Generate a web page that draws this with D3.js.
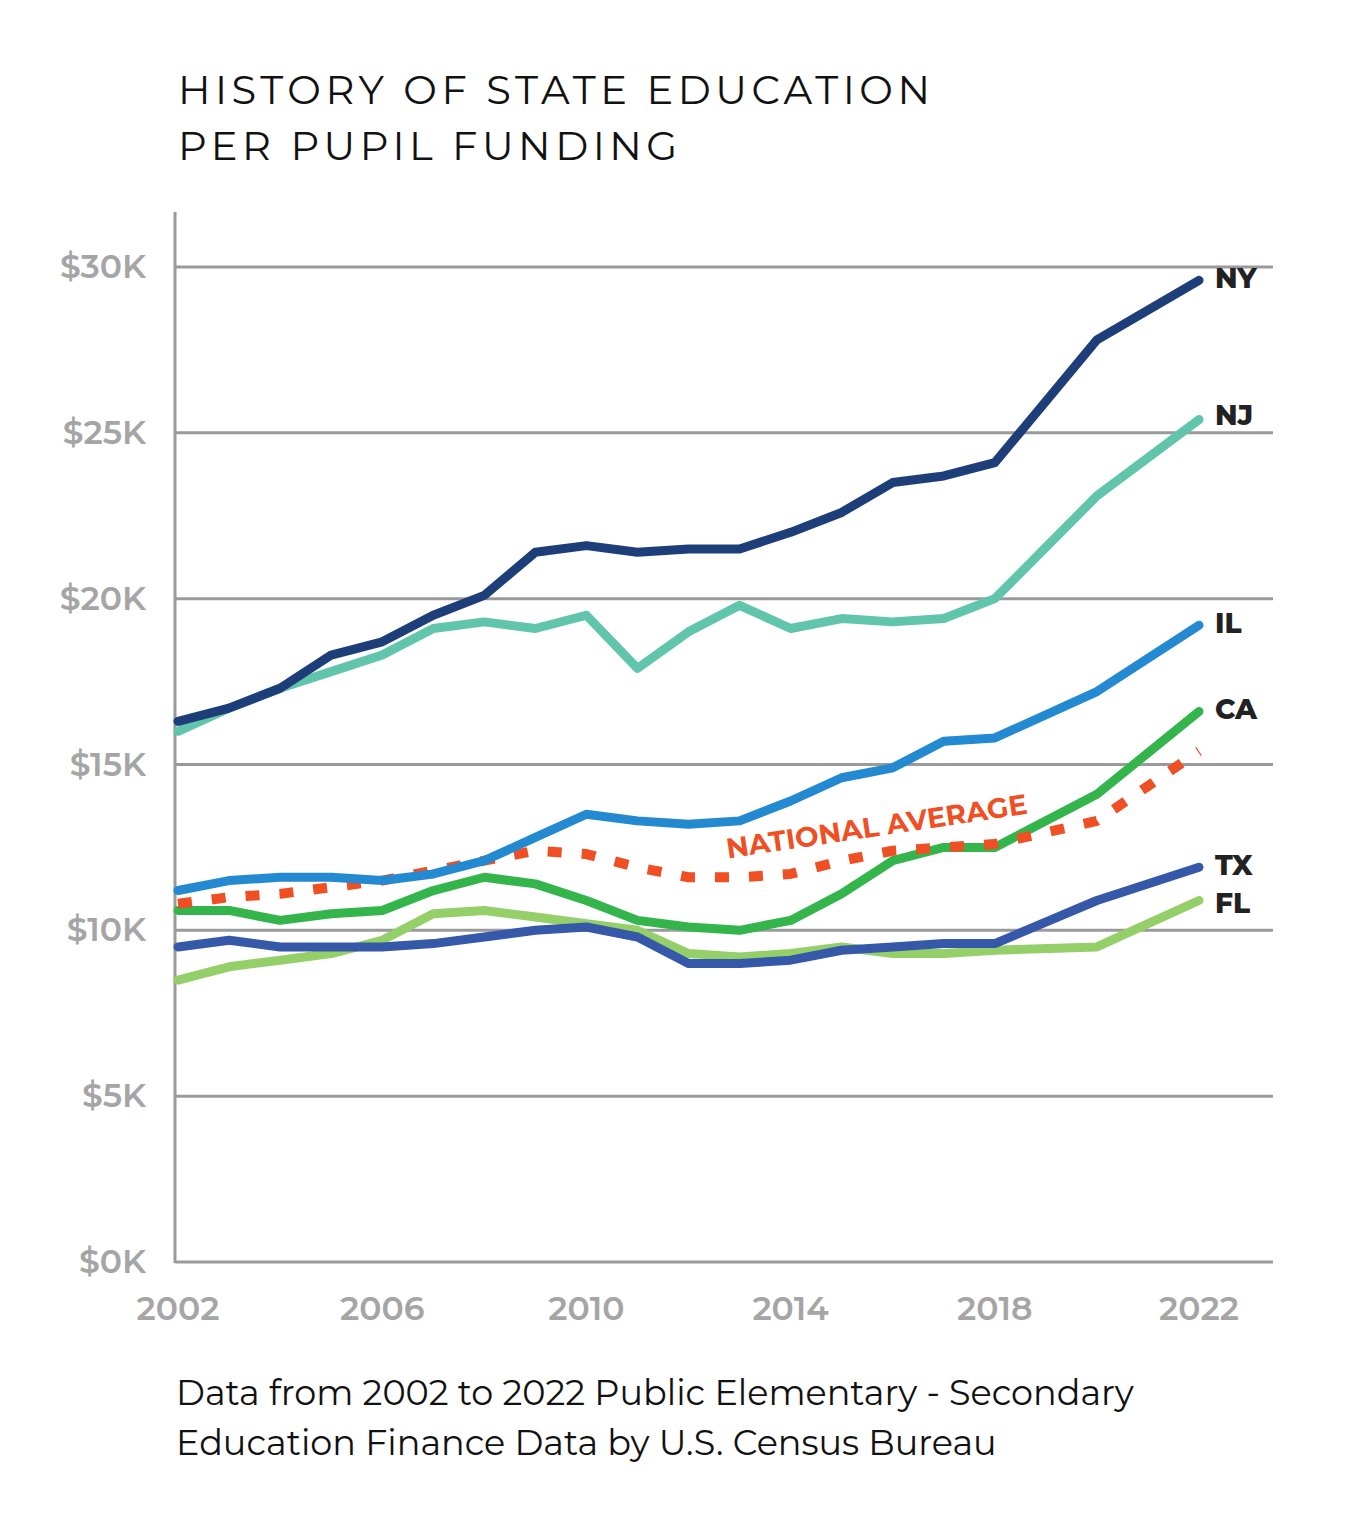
<!DOCTYPE html>
<html><head><meta charset="utf-8">
<script src="https://cdn.jsdelivr.net/npm/d3@7"></script>
<style>body{margin:0;background:#fff}</style>
</head><body><svg id="c" width="1349" height="1536"></svg>
<script>
const years=[2002,2003,2004,2005,2006,2007,2008,2009,2010,2011,2012,2013,2014,2015,2016,2017,2018,2020,2022];
const NY=[16.3,16.7,17.3,18.3,18.7,19.5,20.1,21.4,21.6,21.4,21.5,21.5,22.0,22.6,23.5,23.7,24.1,27.8,29.6];
const NJ=[16.0,16.7,17.3,17.8,18.3,19.1,19.3,19.1,19.5,17.9,19.0,19.8,19.1,19.4,19.3,19.4,20.0,23.1,25.4];
const IL=[11.2,11.5,11.6,11.6,11.5,11.7,12.1,12.8,13.5,13.3,13.2,13.3,13.9,14.6,14.9,15.7,15.8,17.2,19.2];
const CA=[10.6,10.6,10.3,10.5,10.6,11.2,11.6,11.4,10.9,10.3,10.1,10.0,10.3,11.1,12.1,12.5,12.5,14.1,16.6];
const NAT=[10.8,11.0,11.1,11.3,11.5,11.8,12.1,12.4,12.3,11.9,11.6,11.6,11.7,12.1,12.4,12.5,12.6,13.3,15.4];
const TX=[9.5,9.7,9.5,9.5,9.5,9.6,9.8,10.0,10.1,9.8,9.0,9.0,9.1,9.4,9.5,9.6,9.6,10.9,11.9];
const FL=[8.5,8.9,9.1,9.3,9.7,10.5,10.6,10.4,10.2,10.0,9.3,9.2,9.3,9.5,9.3,9.3,9.4,9.5,10.9];
const yTicks=[0,5,10,15,20,25,30];
const xTicks=[2002,2006,2010,2014,2018,2022];

const svg=d3.select("#c");
const x=d3.scaleLinear().domain([2002,2022]).range([178,1199]);
const y=d3.scaleLinear().domain([0,30]).range([1262,267]);
const F="Montserrat, Lato, 'Noto Sans', sans-serif";

svg.append("text").attr("x",178).attr("y",104).attr("font-family",F).attr("font-size",40).attr("letter-spacing",4.5).attr("fill","#111").text("HISTORY OF STATE EDUCATION");
svg.append("text").attr("x",178).attr("y",160).attr("font-family",F).attr("font-size",40).attr("letter-spacing",4.5).attr("fill","#111").text("PER PUPIL FUNDING");

svg.selectAll(".g").data(yTicks.slice(1)).join("line").attr("x1",175).attr("x2",1273).attr("y1",d=>y(d)).attr("y2",d=>y(d)).attr("stroke","#9a9a9a").attr("stroke-width",3);
svg.append("line").attr("x1",175).attr("x2",1273).attr("y1",y(0)).attr("y2",y(0)).attr("stroke","#9a9a9a").attr("stroke-width",3);
svg.append("line").attr("x1",175).attr("x2",175).attr("y1",212).attr("y2",1263).attr("stroke","#9a9a9a").attr("stroke-width",3);

svg.selectAll(".yl").data(yTicks).join("text").attr("x",146).attr("y",d=>y(d)+11).attr("text-anchor","end").attr("font-family",F).attr("font-size",33).attr("font-weight",600).attr("fill","#a5a5a5").text(d=>"$"+d+"K");
svg.selectAll(".xl").data(xTicks).join("text").attr("x",d=>x(d)).attr("y",1320).attr("text-anchor","middle").attr("font-family",F).attr("font-size",33).attr("font-weight",600).attr("fill","#a5a5a5").text(d=>d);

const line=d3.line().x((d,i)=>x(years[i])).y(d=>y(d));
const series=[
 {n:"FL",v:FL,c:"#94cf69",lx:FL[18]},
 {n:"TX",v:TX,c:"#3559a8",lx:TX[18]},
 {n:"CA",v:CA,c:"#33b54c"},
 {n:"NAT",v:NAT,c:"#f04e23",dash:true},
 {n:"IL",v:IL,c:"#2389d0"},
 {n:"NJ",v:NJ,c:"#60c5ab"},
 {n:"NY",v:NY,c:"#1d3e78"}];
series.forEach(s=>{
 const p=svg.append("path").attr("d",line(s.v)).attr("fill","none").attr("stroke",s.c).attr("stroke-width",s.dash?10:9).attr("stroke-linecap","round").attr("stroke-linejoin","round");
 if(s.dash) p.attr("stroke-dasharray","14 20").attr("stroke-linecap","butt");
});
const labels=[["NY",NY,8],["NJ",NJ,5],["IL",IL,8],["CA",CA,8],["TX",TX,8],["FL",FL,10]];
labels.forEach(([n,v,o])=>svg.append("text").attr("x",1215).attr("y",y(v[18])+o+(n=="FL"?3:0)).attr("font-family",F).attr("font-size",28).attr("font-weight",800).attr("fill","#222").text(n));

svg.append("text").attr("transform","translate(878,836) rotate(-8.5)").attr("text-anchor","middle").attr("font-family",F).attr("font-size",28).attr("font-weight",700).attr("fill","#f04e23").text("NATIONAL AVERAGE");

svg.append("text").attr("x",176).attr("y",1405).attr("font-family",F).attr("font-size",35).attr("fill","#111").text("Data from 2002 to 2022 Public Elementary - Secondary");
svg.append("text").attr("x",176).attr("y",1455).attr("font-family",F).attr("font-size",35).attr("fill","#111").text("Education Finance Data by U.S. Census Bureau");
</script></body></html>
